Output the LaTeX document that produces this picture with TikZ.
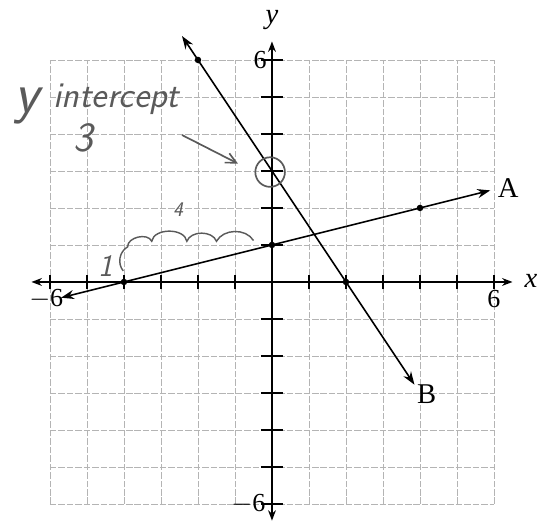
\documentclass[tikz,border=0pt]{standalone}
\usepackage{fontspec}
\setmainfont{Liberation Serif}
\usetikzlibrary{calc,positioning,arrows.meta}
\definecolor{GridGray}{HTML}{B4B4B4}
\definecolor{PencilGray}{HTML}{5A5A5A}
\tikzset{
  gridline/.style={GridGray, line width=0.6pt, dash pattern=on 5pt off 1.5pt},
  axisline/.style={line width=1.3pt, {Stealth[length=8pt,width=6pt]}-{Stealth[length=8pt,width=6pt]}},
  graphline/.style={line width=1.2pt, {Stealth[length=10pt,width=7pt]}-{Stealth[length=10pt,width=7pt]}},
  dotmark/.style={circle, fill=black, inner sep=0pt, minimum size=5pt},
  ticklabel/.style={font=\fontsize{20}{20}\selectfont, inner sep=2pt},
  pencil/.style={PencilGray, line width=1.3pt},
  pencilfont/.style={PencilGray, font=\fontsize{28}{28}\sffamily\itshape, inner sep=0pt}
}

\begin{document}
\begin{tikzpicture}
  \useasboundingbox (-7.35,-6.54) rectangle (7.27,7.62);
  % grid
  \foreach \k in {-6,...,6} {
    \draw[gridline] (\k,-6) -- (\k,6);
    \draw[gridline] (-6,\k) -- (6,\k);
  }
  % axes
  \draw[axisline] (-6.5,0) -- (6.5,0);
  \draw[axisline] (0,-6.45) -- (0,6.5);
  \foreach \k in {-6,-5,-4,-3,-2,-1,1,2,3,4,5,6} {
    \draw[line width=1.1pt] (\k,-0.2) -- (\k,0.2);
    \draw[line width=1.1pt] (-0.3,\k) -- (0.3,\k);
  }
  \node[font=\fontsize{22}{22}\selectfont\itshape] (xlab) at (7.0,0.02) {x};
  \node[font=\fontsize{22}{22}\selectfont\itshape] (ylab) at (0,7.08) {y};
  \node[ticklabel] (xmin) at (-6.1,-0.45) {$-$6};
  \node[ticklabel] (xmax) at (6.0,-0.45) {6};
  \node[ticklabel] (ymax) at (-0.32,6.0) {6};
  \node[ticklabel, anchor=east] (ymin) at (-0.1,-6.0) {$-$6};
  % line A
  \coordinate (a1) at (-5.7,-0.425);
  \coordinate (a2) at (5.9,2.475);
  \draw[graphline] (a1) -- (a2);
  \node[dotmark] (pa1) at (-4,0) {};
  \node[dotmark] (pa2) at (0,1) {};
  \node[dotmark] (pa3) at (4,2) {};
  \node[font=\fontsize{22}{22}\selectfont, anchor=west] (labA) at ($(a2)+(0.08,0.05)$) {A};
  % line B
  \coordinate (b1) at (-2.43,6.645);
  \coordinate (b2) at (3.85,-2.775);
  \draw[graphline] (b1) -- (b2);
  \node[dotmark] (pb1) at (-2,6) {};
  \node[dotmark] (pb2) at (2,0) {};
  \node[font=\fontsize{22}{22}\selectfont, anchor=north west] (labB) at ($(b2)+(-0.05,0.12)$) {B};
  % pencil notes
  \node[circle, draw=PencilGray, line width=1.3pt, minimum size=0.8cm, inner sep=0pt] (ring) at (-0.05,2.97) {};
  \node[pencilfont, font=\fontsize{44}{44}\sffamily\itshape] (ynote) at (-6.62,4.75) {y};
  \node[pencilfont] (inote) at (-4.2,4.95) {intercept};
  \node[pencilfont, font=\fontsize{32}{32}\sffamily\itshape] (tnote) at (-5.1,3.9) {3};
  \coordinate (ntail) at (-2.43,3.97);
  \coordinate (nhead) at (-0.92,3.2);
  \draw[pencil, -{Straight Barb[length=8pt,width=8pt]}] (ntail) -- (nhead);
  \node[pencilfont, font=\fontsize{16}{16}\sffamily\itshape] (fnote) at (-2.54,1.95) {4};
  \node[pencilfont, font=\fontsize{24}{24}\sffamily\itshape] (onote) at (-4.5,0.42) {1};
  \draw[pencil, line width=1.1pt] (-4.02,0.3) to[bend left=50] (-3.9,0.95)
    to[bend left=80] (-3.25,1.1) to[bend left=80] (-2.3,1.1)
    to[bend left=70] (-1.5,1.1) to[bend left=60] (-0.5,1.12);
\end{tikzpicture}
\end{document}
